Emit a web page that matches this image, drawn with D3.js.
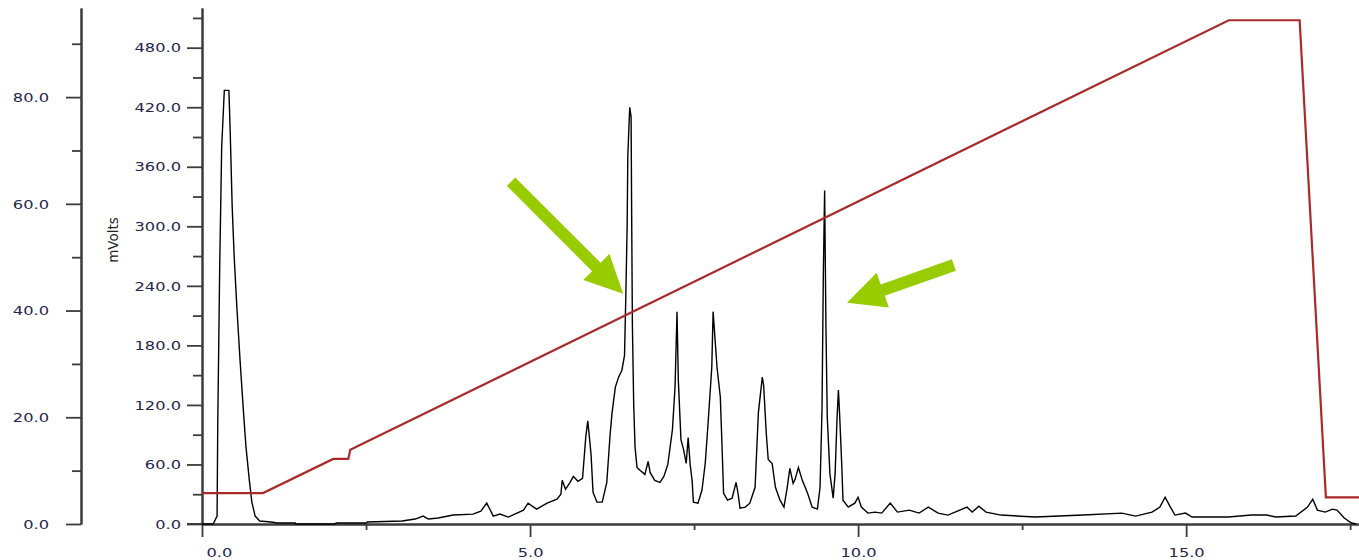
<!DOCTYPE html>
<html>
<head>
<meta charset="utf-8">
<script src="https://cdn.jsdelivr.net/npm/d3@7"></script>
<style>
  html, body { margin: 0; padding: 0; background: #ffffff; }
  svg { display: block; }
</style>
</head>
<body>
<svg id="chart" width="1359" height="560"></svg>
<script>
// ---------- DATA ----------
// Detector signal (mVolts) vs. time (min)
const signalTime = [0.00,0.17,0.23,0.24,0.27,0.30,0.34,0.41,0.43,0.46,0.49,0.53,0.58,0.63,0.67,0.72,0.76,0.81,0.88,1.05,1.15,1.42,1.43,2.02,2.05,2.50,2.52,3.05,3.25,3.37,3.45,3.60,3.83,4.13,4.25,4.34,4.44,4.54,4.67,4.80,4.90,4.97,5.10,5.26,5.41,5.47,5.49,5.54,5.61,5.66,5.73,5.80,5.85,5.88,5.93,5.96,6.02,6.10,6.17,6.22,6.25,6.30,6.35,6.40,6.44,6.46,6.48,6.49,6.51,6.52,6.54,6.55,6.56,6.58,6.60,6.63,6.68,6.75,6.80,6.83,6.90,6.98,7.04,7.10,7.17,7.21,7.24,7.26,7.30,7.34,7.38,7.41,7.44,7.47,7.49,7.56,7.62,7.67,7.71,7.77,7.79,7.85,7.90,7.93,7.95,8.01,8.08,8.14,8.17,8.20,8.28,8.35,8.43,8.48,8.54,8.56,8.60,8.63,8.69,8.74,8.81,8.87,8.92,8.96,9.01,9.04,9.09,9.15,9.23,9.30,9.38,9.42,9.45,9.47,9.49,9.51,9.53,9.57,9.62,9.65,9.68,9.70,9.72,9.75,9.77,9.85,9.95,10.00,10.05,10.15,10.26,10.36,10.49,10.60,10.78,10.93,11.07,11.22,11.37,11.66,11.74,11.84,11.95,12.18,12.70,13.43,14.02,14.23,14.48,14.60,14.68,14.76,14.83,14.99,15.09,15.64,16.00,16.23,16.37,16.67,16.85,16.93,17.00,17.12,17.23,17.30,17.41,17.52,17.59];
const signalMV = [0,0,8,100,260,380,437,437,395,320,270,220,165,115,78,45,22,8,3,2,1,1,0,0,1,1,2,3,5,8,5,6,9,10,13,21,8,10,7,11,14,21,15,21,25,30,44,35,42,48,43,46,88,104,70,32,22,22,42,90,112,138,148,155,170,230,300,370,405,420,410,300,200,120,78,57,54,50,63,52,44,42,48,60,95,138,214,145,85,75,61,87,60,44,22,21,34,61,98,158,214,158,128,71,31,24,26,42,31,16,17,21,37,112,148,140,92,65,61,37,24,17,37,56,41,45,57,44,31,17,15,37,115,250,336,199,108,51,26,51,108,135,108,61,24,17,21,27,17,11,12,11,21,12,14,11,17,11,9,17,12,18,12,9,7,9,11,8,12,17,27,17,9,11,7,7,9,9,7,8,17,25,14,12,15,14,6,1,0];

// Gradient profile (left axis units) vs. time (min)
const gradientTime = [0.00, 0.93, 2.00, 2.23, 2.26, 15.65, 16.73, 17.13, 17.65];
const gradientPct  = [5.8, 5.8, 12.2, 12.2, 13.9, 94.4, 94.4, 5.0, 5.0];

// Axis ticks
const xMajorTicks = [0, 5, 10, 15];
const xMinorTicks = [2.5, 7.5, 12.5, 17.5];
const mvMajorTicks = [0, 60, 120, 180, 240, 300, 360, 420, 480];
const mvMinorTicks = [30, 90, 150, 210, 270, 330, 390, 450, 510];
const pctMajorTicks = [0, 20, 40, 60, 80];
const pctMinorTicks = [10, 30, 50, 70, 90];
const yLabel = "mVolts";

// Annotation arrows: [tailTime, tailMV, tipTime, tipMV]
const arrowTails = [[4.71, 345], [11.46, 261]];
const arrowTips  = [[6.42, 232], [9.83, 223]];

// ---------- SCALES ----------
const svg = d3.select("#chart");
const x = d3.scaleLinear().domain([0, 17.65]).range([202, 1360]);
const yMV = d3.scaleLinear().domain([0, 520]).range([524, 8]);
const yPct = d3.scaleLinear().domain([0, 96.7]).range([524, 8]);

const axisColor = "#3c3c3c";
const textColor = "#26264e";
const fontFam = "'DejaVu Sans', Verdana, sans-serif";

function styleAxis(g) {
  g.select(".domain").attr("stroke", axisColor).attr("stroke-width", 2);
  g.selectAll(".tick line").attr("stroke", axisColor).attr("stroke-width", 1.8);
  g.selectAll(".tick text")
    .attr("fill", textColor)
    .style("font-family", fontFam)
    .style("font-size", "13px");
}
function stretchText(g, offset) {
  g.selectAll(".tick text").each(function(d) {
    const t = d3.select(this);
    const x0 = +t.attr("x") || 0;
    const dx = offset ? offset(d) : 0;
    t.attr("x", 0).attr("transform", `translate(${x0 + dx},0) scale(1.25,1)`);
  });
}

// Left axis (gradient)
const gPctMinor = svg.append("g").attr("transform", "translate(81,0)")
  .call(d3.axisLeft(yPct).tickValues(pctMinorTicks).tickSize(9).tickSizeOuter(0).tickFormat(""));
styleAxis(gPctMinor);
const gPct = svg.append("g").attr("transform", "translate(81,0)")
  .call(d3.axisLeft(yPct).tickValues(pctMajorTicks).tickSize(15).tickPadding(17).tickSizeOuter(0).tickFormat(d3.format(".1f")));
styleAxis(gPct);
stretchText(gPct);

// Middle axis (mVolts)
const gMVMinor = svg.append("g").attr("transform", "translate(202,0)")
  .call(d3.axisLeft(yMV).tickValues(mvMinorTicks).tickSize(9).tickSizeOuter(0).tickFormat(""));
styleAxis(gMVMinor);
const gMV = svg.append("g").attr("transform", "translate(202,0)")
  .call(d3.axisLeft(yMV).tickValues(mvMajorTicks).tickSize(15).tickPadding(6).tickSizeOuter(0).tickFormat(d3.format(".1f")));
styleAxis(gMV);
stretchText(gMV);

svg.append("text")
  .attr("transform", "translate(118,240) rotate(-90)")
  .attr("text-anchor", "middle")
  .attr("fill", "#222")
  .style("font-family", fontFam)
  .style("font-size", "13.5px")
  .text(yLabel);

// X axis
const gXMinor = svg.append("g").attr("transform", "translate(0,524)")
  .call(d3.axisBottom(x).tickValues(xMinorTicks).tickSize(6).tickSizeOuter(0).tickFormat(""));
styleAxis(gXMinor);
const gX = svg.append("g").attr("transform", "translate(0,524)")
  .call(d3.axisBottom(x).tickValues(xMajorTicks).tickSize(13).tickPadding(11).tickSizeOuter(0).tickFormat(d3.format(".1f")));
styleAxis(gX);
gX.selectAll(".tick text").filter(d => d === 0).attr("text-anchor", "start");
stretchText(gX, d => d === 0 ? 4 : 0);
// extend baseline left to meet the mV tick
svg.append("line").attr("x1", 187).attr("x2", 202).attr("y1", 524).attr("y2", 524)
  .attr("stroke", axisColor).attr("stroke-width", 2);

// ---------- SERIES ----------
const signal = signalTime.map((t, i) => [t, signalMV[i]]);
const gradient = gradientTime.map((t, i) => [t, gradientPct[i]]);

svg.append("path")
  .datum(signal)
  .attr("fill", "none")
  .attr("stroke", "#000")
  .attr("stroke-width", 1.4)
  .attr("stroke-linejoin", "miter")
  .attr("d", d3.line().x(d => x(d[0])).y(d => yMV(d[1])));

svg.append("path")
  .datum(gradient)
  .attr("fill", "none")
  .attr("stroke", "#aa2a2a")
  .attr("stroke-width", 2.2)
  .attr("d", d3.line().x(d => x(d[0])).y(d => yPct(d[1])));

// ---------- ARROWS ----------
function arrowPoly(x1, y1, x2, y2, w, hl, hw) {
  const dx = x2 - x1, dy = y2 - y1, L = Math.hypot(dx, dy);
  const ux = dx / L, uy = dy / L, nx = -uy, ny = ux;
  const bx = x2 - ux * hl, by = y2 - uy * hl;
  return [
    [x1 + nx * w / 2, y1 + ny * w / 2],
    [bx + nx * w / 2, by + ny * w / 2],
    [bx + nx * hw / 2, by + ny * hw / 2],
    [x2, y2],
    [bx - nx * hw / 2, by - ny * hw / 2],
    [bx - nx * w / 2, by - ny * w / 2],
    [x1 - nx * w / 2, y1 - ny * w / 2]
  ];
}
arrowTails.forEach((tail, i) => {
  const tip = arrowTips[i];
  const pts = arrowPoly(x(tail[0]), yMV(tail[1]), x(tip[0]), yMV(tip[1]), 12, 38, 37);
  svg.append("polygon")
    .attr("points", pts.map(p => p.join(",")).join(" "))
    .attr("fill", "#99cc00");
});
</script>
</body>
</html>
